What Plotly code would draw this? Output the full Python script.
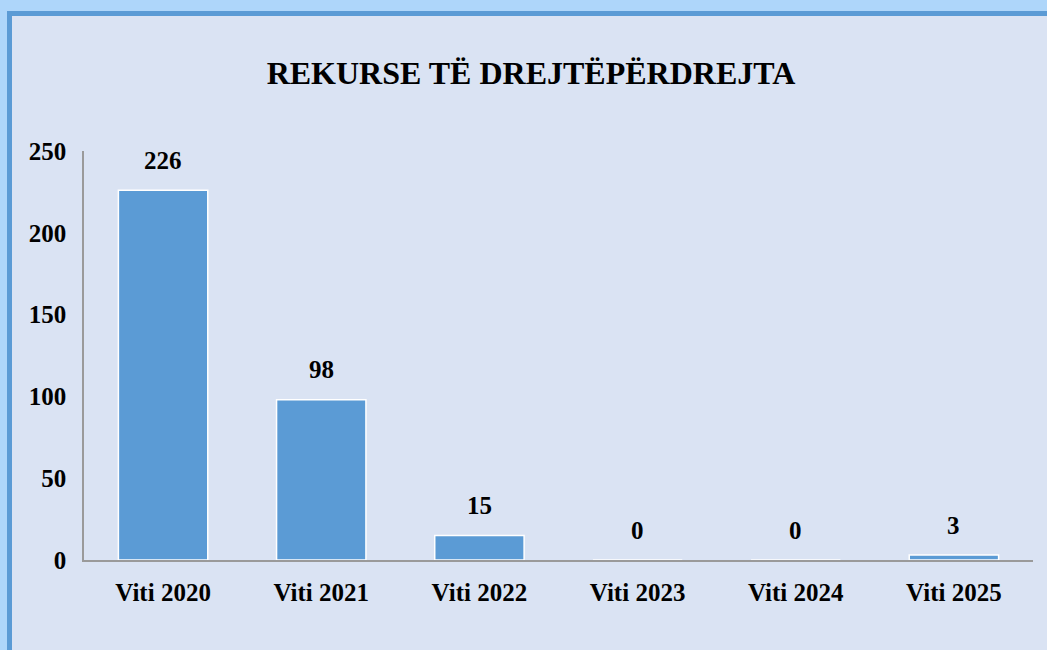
import plotly.graph_objects as go

categories = ["Viti 2020", "Viti 2021", "Viti 2022", "Viti 2023", "Viti 2024", "Viti 2025"]
values = [226, 98, 15, 0, 0, 3]
title_text = "REKURSE TË DREJTËPËRDREJTA"
y_ticks = [0, 50, 100, 150, 200, 250]

W, H = 1047, 650
L, R, T, B = 84, 14, 151, 90
pw, ph = W - L - R, H - T - B

def px_x(px):
    return (px - L) / pw

def px_y(py):
    return (H - B - py) / ph

font = "serif"

fig = go.Figure()
fig.add_trace(go.Bar(
    x=categories, y=values,
    marker=dict(color="#5B9BD5", line=dict(color="white", width=1.5)),
    width=0.565,
    hoverinfo="x+y",
))

for c, v in zip(categories, values):
    fig.add_annotation(x=c, y=v, text=f"<b>{v}</b>", showarrow=False,
                       yanchor="middle", yshift=30,
                       font=dict(family=font, size=25, color="black"))

shapes = [
    dict(type="rect", xref="paper", yref="paper", x0=px_x(0), x1=px_x(W), y0=px_y(0), y1=px_y(11),
         fillcolor="#AED6FA", line=dict(width=0), layer="above"),
    dict(type="rect", xref="paper", yref="paper", x0=px_x(0), x1=px_x(7), y0=px_y(0), y1=px_y(H),
         fillcolor="#AED6FA", line=dict(width=0), layer="above"),
    dict(type="rect", xref="paper", yref="paper", x0=px_x(7), x1=px_x(W), y0=px_y(11), y1=px_y(16),
         fillcolor="#5B9BD5", line=dict(width=0), layer="above"),
    dict(type="rect", xref="paper", yref="paper", x0=px_x(7), x1=px_x(12), y0=px_y(11), y1=px_y(H),
         fillcolor="#5B9BD5", line=dict(width=0), layer="above"),
]

fig.update_layout(
    width=W, height=H,
    margin=dict(l=L, r=R, t=T, b=B),
    paper_bgcolor="#DAE3F3",
    plot_bgcolor="#DAE3F3",
    showlegend=False,
    shapes=shapes,
    title=dict(text=f"<b>{title_text}</b>", x=531 / W, xref="container", xanchor="center",
               y=1 - 73 / H, yref="container", yanchor="middle",
               font=dict(family=font, size=32, color="black")),
    xaxis=dict(showline=True, linecolor="#9A9A9A", linewidth=1.5, ticks="",
               tickfont=dict(family=font, size=25, color="black"),
               ticklabelstandoff=9, showgrid=False, zeroline=False,
               tickprefix="<b>", ticksuffix="</b>"),
    yaxis=dict(range=[0, 250], showline=True, linecolor="#9A9A9A", linewidth=1.5,
               tickvals=y_ticks, ticktext=[f"<b>{t}</b>" for t in y_ticks], ticks="",
               tickfont=dict(family=font, size=25, color="black"),
               ticklabelstandoff=11, showgrid=False, zeroline=False),
)

fig.write_html("out.html", config={"displayModeBar": False},
               post_script="document.body.style.margin='0';")
